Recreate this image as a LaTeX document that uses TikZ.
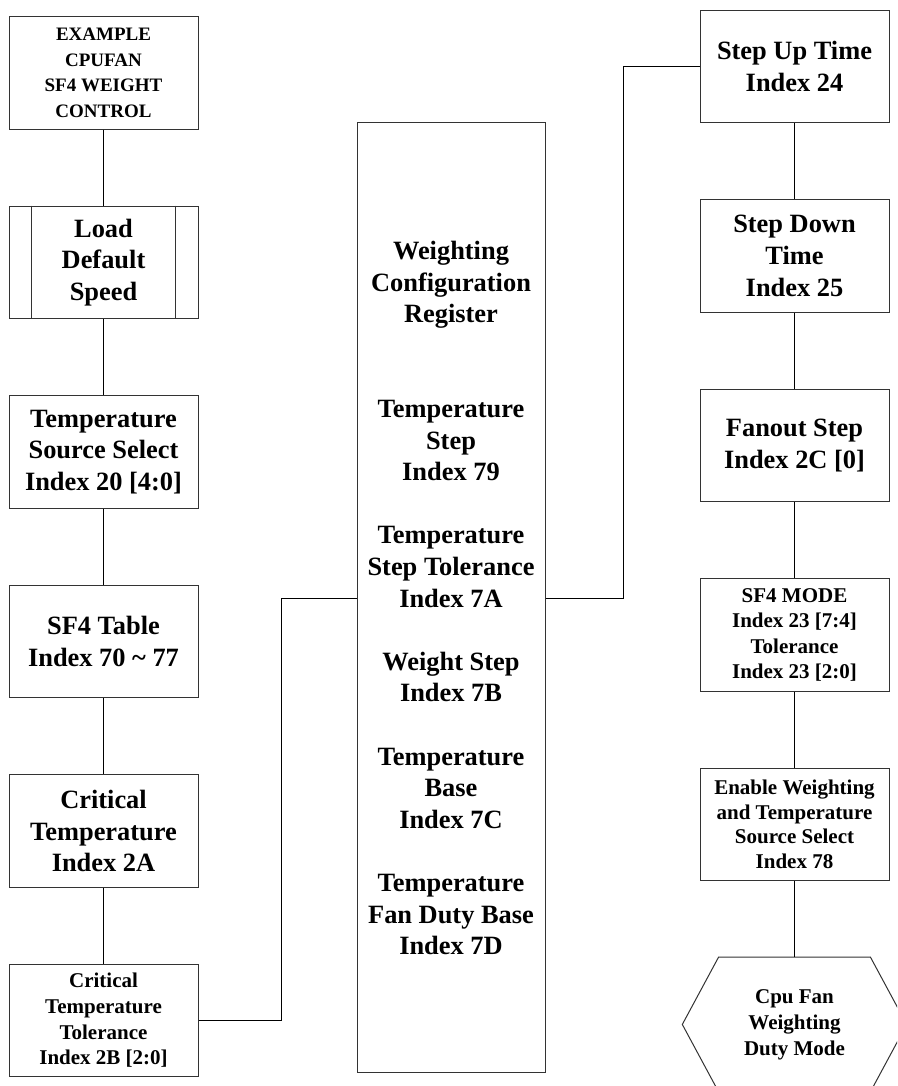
\documentclass[tikz,border=0pt]{standalone}
\usepackage{fontspec}
\setmainfont{Liberation Serif}
\usetikzlibrary{positioning,calc}
\tikzset{
  box/.style={draw=black!80,line width=1pt,fill=white,align=center,
              minimum width=189pt,minimum height=112.5pt,inner sep=2pt,
              font=\fontsize{26.4}{31.6}\selectfont\bfseries},
  smallbox/.style={box,font=\fontsize{21}{25.6}\selectfont\bfseries},
  wire/.style={draw=black,line width=0.8pt}
}

\begin{document}
\begin{tikzpicture}[x=1pt,y=1pt,node distance=76pt]
  \useasboundingbox (0,0) rectangle (897,1086);
  \clip (0,0) rectangle (897,1086);
  % left column
  \node[box,font=\fontsize{19}{25.5}\selectfont\bfseries] (title) at (103.5,1013) {EXAMPLE\\CPUFAN\\SF4 WEIGHT\\CONTROL};
  \node[box,below=of title] (load) {Load\\Default\\Speed};
  \draw[black!80,line width=1pt] ([xshift=23pt]load.north west) -- ([xshift=23pt]load.south west);
  \draw[black!80,line width=1pt] ([xshift=-23pt]load.north east) -- ([xshift=-23pt]load.south east);
  \node[box,below=of load] (tsrc) {Temperature\\Source Select\\Index 20 [4:0]};
  \node[box,below=of tsrc] (table) {SF4 Table\\Index 70 \textasciitilde{} 77};
  \node[box,below=of table] (crit) {Critical\\Temperature\\Index 2A};
  \node[smallbox,below=of crit] (cttol) {Critical\\Temperature\\Tolerance\\Index 2B [2:0]};
  % register
  \node[box,minimum width=188pt,minimum height=950pt] (reg) at (451,488)
    {Weighting\\Configuration\\Register\\[63.2pt]
     Temperature\\Step\\Index 79\\[31.6pt]
     Temperature\\Step Tolerance\\Index 7A\\[31.6pt]
     Weight Step\\Index 7B\\[31.6pt]
     Temperature\\Base\\Index 7C\\[31.6pt]
     Temperature\\Fan Duty Base\\Index 7D};
  % right column
  \node[box] (stepup) at (794.5,1019.5) {Step Up Time\\Index 24};
  \node[box,below=of stepup] (stepdn) {Step Down\\Time\\Index 25};
  \node[box,below=of stepdn] (fanout) {Fanout Step\\Index 2C [0]};
  \node[smallbox,below=of fanout] (mode) {SF4 MODE\\Index 23 [7:4]\\Tolerance\\Index 23 [2:0]};
  \node[smallbox,below=of mode,font=\fontsize{21}{24.5}\selectfont\bfseries] (enable) {Enable Weighting\\and Temperature\\Source Select\\Index 78};
  \node[align=center,minimum width=224pt,minimum height=134pt,inner sep=0pt,
        font=\fontsize{21}{26}\selectfont\bfseries,below=of enable] (hexa) {Cpu Fan\\Weighting\\Duty Mode};
  \draw[black!80,line width=1pt] (hexa.west) -- ($(hexa.north)+(-76,0)$) -- ($(hexa.north)+(76,0)$)
    -- (hexa.east) -- ($(hexa.south)+(76,0)$) -- ($(hexa.south)+(-76,0)$) -- cycle;
  % connectors
  \draw[wire] (title) -- (load);
  \draw[wire] (load) -- (tsrc);
  \draw[wire] (tsrc) -- (table);
  \draw[wire] (table) -- (crit);
  \draw[wire] (crit) -- (cttol);
  \draw[wire] (cttol.east) -- ++(83,0) |- (reg.west);
  \draw[wire] (reg.east) -- ++(78,0) |- (stepup.west);
  \draw[wire] (stepup) -- (stepdn);
  \draw[wire] (stepdn) -- (fanout);
  \draw[wire] (fanout) -- (mode);
  \draw[wire] (mode) -- (enable);
  \draw[wire] (enable) -- (hexa);
\end{tikzpicture}
\end{document}
